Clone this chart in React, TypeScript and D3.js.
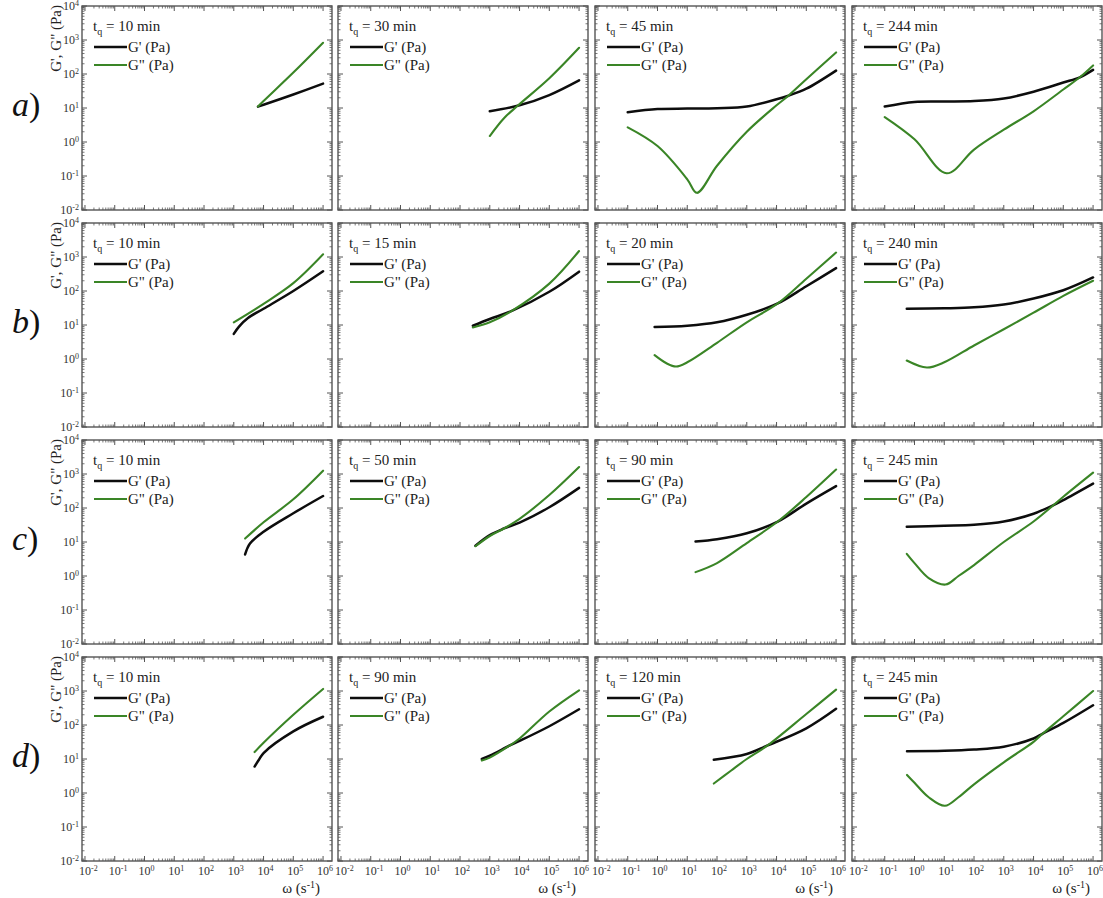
import React from "react";
import * as d3 from "d3";

// row labels and quench times (t_q, min) for every panel
const rowLabels = ["a", "b", "c", "d"];
const quenchTimes = [
  [10, 30, 45, 244],
  [10, 15, 20, 240],
  [10, 50, 90, 245],
  [10, 90, 120, 245],
];
const xTickExps = [-2, -1, 0, 1, 2, 3, 4, 5, 6];
const yTickExps = [-2, -1, 0, 1, 2, 3, 4];

// [omega (s^-1), modulus (Pa)]
const a1Gp = [[6.5e3, 11], [1e4, 12.5], [1e5, 25], [1e6, 52]];
const a1Gpp = [[6.5e3, 11], [1e4, 16], [1e5, 110], [1e6, 830]];
const a2Gp = [[1e3, 8], [1e4, 12], [1e5, 24], [1e6, 65]];
const a2Gpp = [[1e3, 1.5], [3e3, 5], [9e3, 12], [1e5, 75], [1e6, 590]];
const a3Gp = [[0.1, 7.5], [1, 9.3], [10, 9.6], [100, 9.9], [1e3, 11], [1e4, 18], [2.5e4, 23], [1e5, 37], [1e6, 126]];
const a3Gpp = [[0.1, 2.7], [1, 0.76], [10, 0.08], [21, 0.032], [100, 0.2], [1e3, 2], [1e4, 12], [2.5e4, 23], [1e5, 70], [1e6, 430]];
const a4Gp = [[0.1, 11], [1, 15], [10, 15.5], [100, 16], [1e3, 19], [1e4, 30], [1e5, 56], [3.6e5, 80], [1e6, 132]];
const a4Gpp = [[0.1, 5.4], [1, 1.2], [12, 0.12], [100, 0.6], [1e3, 2.3], [1e4, 8], [1e5, 35], [3.6e5, 80], [1e6, 178]];

const b1Gp = [[1e3, 5.5], [1.5e3, 9], [3e3, 16], [1e4, 30], [1e5, 100], [1e6, 380]];
const b1Gpp = [[1e3, 12], [1e4, 42], [1e5, 170], [1e6, 1200]];
const b2Gp = [[270, 9.5], [1e3, 15], [5.5e3, 26], [1e5, 95], [1e6, 370]];
const b2Gpp = [[270, 8.5], [1e3, 12], [5.5e3, 26], [1e5, 165], [1e6, 1500]];
const b3Gp = [[0.8, 8.7], [10, 9.5], [100, 12], [1e3, 20], [1.1e4, 43], [1e5, 138], [1e6, 470]];
const b3Gpp = [[0.8, 1.3], [2, 0.75], [4.2, 0.6], [10, 0.8], [100, 3], [1e3, 12], [1.1e4, 43], [1e5, 230], [1e6, 1350]];
const b4Gp = [[0.55, 30], [10, 31], [100, 33], [1e3, 40], [1e4, 60], [1e5, 105], [1e6, 250]];
const b4Gpp = [[0.55, 0.9], [2.6, 0.56], [10, 0.8], [100, 2.5], [1e3, 7.5], [1e4, 23], [1e5, 72], [1e6, 200]];

const c1Gp = [[2.4e3, 4.3], [3.5e3, 9], [1e4, 20], [1e5, 70], [1e6, 225]];
const c1Gpp = [[2.4e3, 12.6], [1e4, 38], [1e5, 180], [1e6, 1250]];
const c2Gp = [[330, 7.8], [1e3, 16], [3e3, 25], [1e4, 37], [1e5, 105], [1e6, 390]];
const c2Gpp = [[330, 7.5], [1e3, 15], [3e3, 25], [1e4, 48], [1e5, 240], [1e6, 1600]];
const c3Gp = [[19, 10.3], [100, 12], [1e3, 18], [1.1e4, 40], [1e5, 135], [1e6, 440]];
const c3Gpp = [[19, 1.3], [100, 2.4], [1e3, 9.3], [1.1e4, 40], [1e5, 210], [1e6, 1350]];
const c4Gp = [[0.55, 28], [10, 30], [100, 32], [1e3, 40], [1e4, 68], [4.7e4, 122], [1e5, 170], [1e6, 520]];
const c4Gpp = [[0.55, 4.5], [1, 2.4], [3, 0.87], [11, 0.56], [30, 1.0], [100, 2.1], [1e3, 10], [1e4, 40], [4.7e4, 122], [1e5, 215], [1e6, 1100]];

const d1Gp = [[5e3, 6], [7e3, 9.5], [1e4, 15], [1e5, 65], [1e6, 175]];
const d1Gpp = [[5e3, 16], [1e4, 30], [1e5, 200], [1e6, 1150]];
const d2Gp = [[540, 10], [1e3, 12.5], [4.7e3, 25], [1e4, 34], [1e5, 92], [1e6, 290]];
const d2Gpp = [[540, 9], [1e3, 11], [4.7e3, 25], [1e4, 40], [1e5, 250], [1e6, 1050]];
const d3Gp = [[78, 9.5], [1e3, 14], [5e3, 25], [1e5, 80], [1e6, 300]];
const d3Gpp = [[78, 1.9], [300, 4.6], [1e3, 10], [5e3, 25], [1e5, 210], [1e6, 1100]];
const d4Gp = [[0.56, 17], [10, 17.5], [100, 19], [1e3, 23], [1e4, 40], [2.1e4, 57], [1e5, 115], [1e6, 380]];
const d4Gpp = [[0.56, 3.4], [1, 2], [3, 0.75], [10.5, 0.42], [30, 0.75], [100, 1.8], [1e3, 8], [1e4, 32], [2.1e4, 57], [1e5, 180], [1e6, 1000]];

const storage = [
  [[a1Gp, a1Gpp], [a2Gp, a2Gpp], [a3Gp, a3Gpp], [a4Gp, a4Gpp]],
  [[b1Gp, b1Gpp], [b2Gp, b2Gpp], [b3Gp, b3Gpp], [b4Gp, b4Gpp]],
  [[c1Gp, c1Gpp], [c2Gp, c2Gpp], [c3Gp, c3Gpp], [c4Gp, c4Gpp]],
  [[d1Gp, d1Gpp], [d2Gp, d2Gpp], [d3Gp, d3Gpp], [d4Gp, d4Gpp]],
];

const W = 1103;
const H = 898;
const colLeft = [82, 338, 595, 852];
const rowTop = [6, 223, 440, 657];
const PW = 250;
const PH = 204;
const FONT = '"Liberation Serif", "DejaVu Serif", "Times New Roman", serif';
const GREEN = "#3a8526";
const BLACK = "#0d0d0d";
const FRAME = "#555";

function Panel({ row, col }: { row: number; col: number }) {
  const L = colLeft[col];
  const T = rowTop[row];
  const x = d3.scaleLog().domain([10 ** -2.1, 10 ** 6.3]).range([L, L + PW]);
  const y = d3.scaleLog().domain([1e-2, 1e4]).range([T + PH, T]);
  const line = d3
    .line<number[]>()
    .x((d) => x(d[0]))
    .y((d) => y(d[1]))
    .curve(d3.curveCatmullRom.alpha(0.5));

  const xMinor: number[] = [];
  for (let e = -3; e <= 6; e++)
    for (let m = 2; m <= 9; m++) {
      const v = m * 10 ** e;
      if (v > x.domain()[0] && v < x.domain()[1]) xMinor.push(v);
    }
  const yMinor: number[] = [];
  for (let e = -2; e < 4; e++) for (let m = 2; m <= 9; m++) yMinor.push(m * 10 ** e);

  const [gp, gpp] = storage[row][col];
  const isBottom = row === 3;

  return (
    <g>
      <rect x={L} y={T} width={PW} height={PH} fill="#fff" stroke={FRAME} strokeWidth={1.4} />
      {xTickExps.map((e) => {
        const xx = x(10 ** e);
        return (
          <g key={"xt" + e}>
            <line x1={xx} x2={xx} y1={T + PH} y2={T + PH - 5} stroke={FRAME} />
            <line x1={xx} x2={xx} y1={T} y2={T + 5} stroke={FRAME} />
          </g>
        );
      })}
      {xMinor.map((v, i) => (
        <g key={"xm" + i}>
          <line x1={x(v)} x2={x(v)} y1={T + PH} y2={T + PH - 2.5} stroke={FRAME} strokeWidth={0.8} />
          <line x1={x(v)} x2={x(v)} y1={T} y2={T + 2.5} stroke={FRAME} strokeWidth={0.8} />
        </g>
      ))}
      {yTickExps.map((e) => {
        const yy = y(10 ** e);
        return (
          <g key={"yt" + e}>
            <line x1={L} x2={L + 5} y1={yy} y2={yy} stroke={FRAME} />
            <line x1={L + PW} x2={L + PW - 5} y1={yy} y2={yy} stroke={FRAME} />
          </g>
        );
      })}
      {yMinor.map((v, i) => (
        <g key={"ym" + i}>
          <line x1={L} x2={L + 2.5} y1={y(v)} y2={y(v)} stroke={FRAME} strokeWidth={0.8} />
          <line x1={L + PW} x2={L + PW - 2.5} y1={y(v)} y2={y(v)} stroke={FRAME} strokeWidth={0.8} />
        </g>
      ))}
      {col === 0 &&
        yTickExps.map((e) => (
          <text key={"yl" + e} x={L - 3} y={y(10 ** e) + 4} textAnchor="end" fontSize={12} fill="#333">
            10<tspan dy={-4} fontSize={8}>{e}</tspan>
          </text>
        ))}
      {isBottom &&
        xTickExps.map((e) => (
          <text key={"xl" + e} x={x(10 ** e) - 6} y={T + PH + 14} textAnchor="start" fontSize={12} fill="#333">
            10<tspan dy={-4} fontSize={8}>{e}</tspan>
          </text>
        ))}
      {isBottom && (
        <text x={L + 238} y={T + PH + 32} textAnchor="end" fontSize={15} fill="#222">
          ω (s<tspan dy={-5} fontSize={10}>-1</tspan>
          <tspan dy={5}>)</tspan>
        </text>
      )}
      <path d={line(gp) || ""} fill="none" stroke={BLACK} strokeWidth={2.5} strokeLinecap="round" />
      <path d={line(gpp) || ""} fill="none" stroke={GREEN} strokeWidth={2.1} strokeLinecap="round" />
      <text x={L + 11} y={T + 25} fontSize={15} fill="#222">
        t<tspan dy={4} fontSize={10}>q</tspan>
        <tspan dy={-4}> = {quenchTimes[row][col]} min</tspan>
      </text>
      <line x1={L + 12} x2={L + 45} y1={T + 41} y2={T + 41} stroke={BLACK} strokeWidth={2.5} />
      <text x={L + 46} y={T + 46} fontSize={15} fill="#222">G' (Pa)</text>
      <line x1={L + 12} x2={L + 45} y1={T + 59} y2={T + 59} stroke={GREEN} strokeWidth={2.1} />
      <text x={L + 46} y={T + 64} fontSize={15} fill="#222">G" (Pa)</text>
    </g>
  );
}

export default function App() {
  return (
    <svg
      width={W}
      height={H}
      style={{ position: "absolute", left: 0, top: 0, background: "#fff", fontFamily: FONT }}
    >
      <rect width={W} height={H} fill="#fff" />
      {rowTop.map((T, r) => (
        <g key={"row" + r}>
          <text x={12} y={T + 110} fontSize={34} fill="#111">
            <tspan fontStyle="italic">{rowLabels[r]}</tspan>)
          </text>
          <text
            transform={`translate(61, ${T - 1}) rotate(-90)`}
            textAnchor="end"
            fontSize={15}
            fill="#222"
          >
            G', G" (Pa)
          </text>
        </g>
      ))}
      {rowTop.map((_, r) => colLeft.map((__, c) => <Panel key={r + "-" + c} row={r} col={c} />))}
    </svg>
  );
}
